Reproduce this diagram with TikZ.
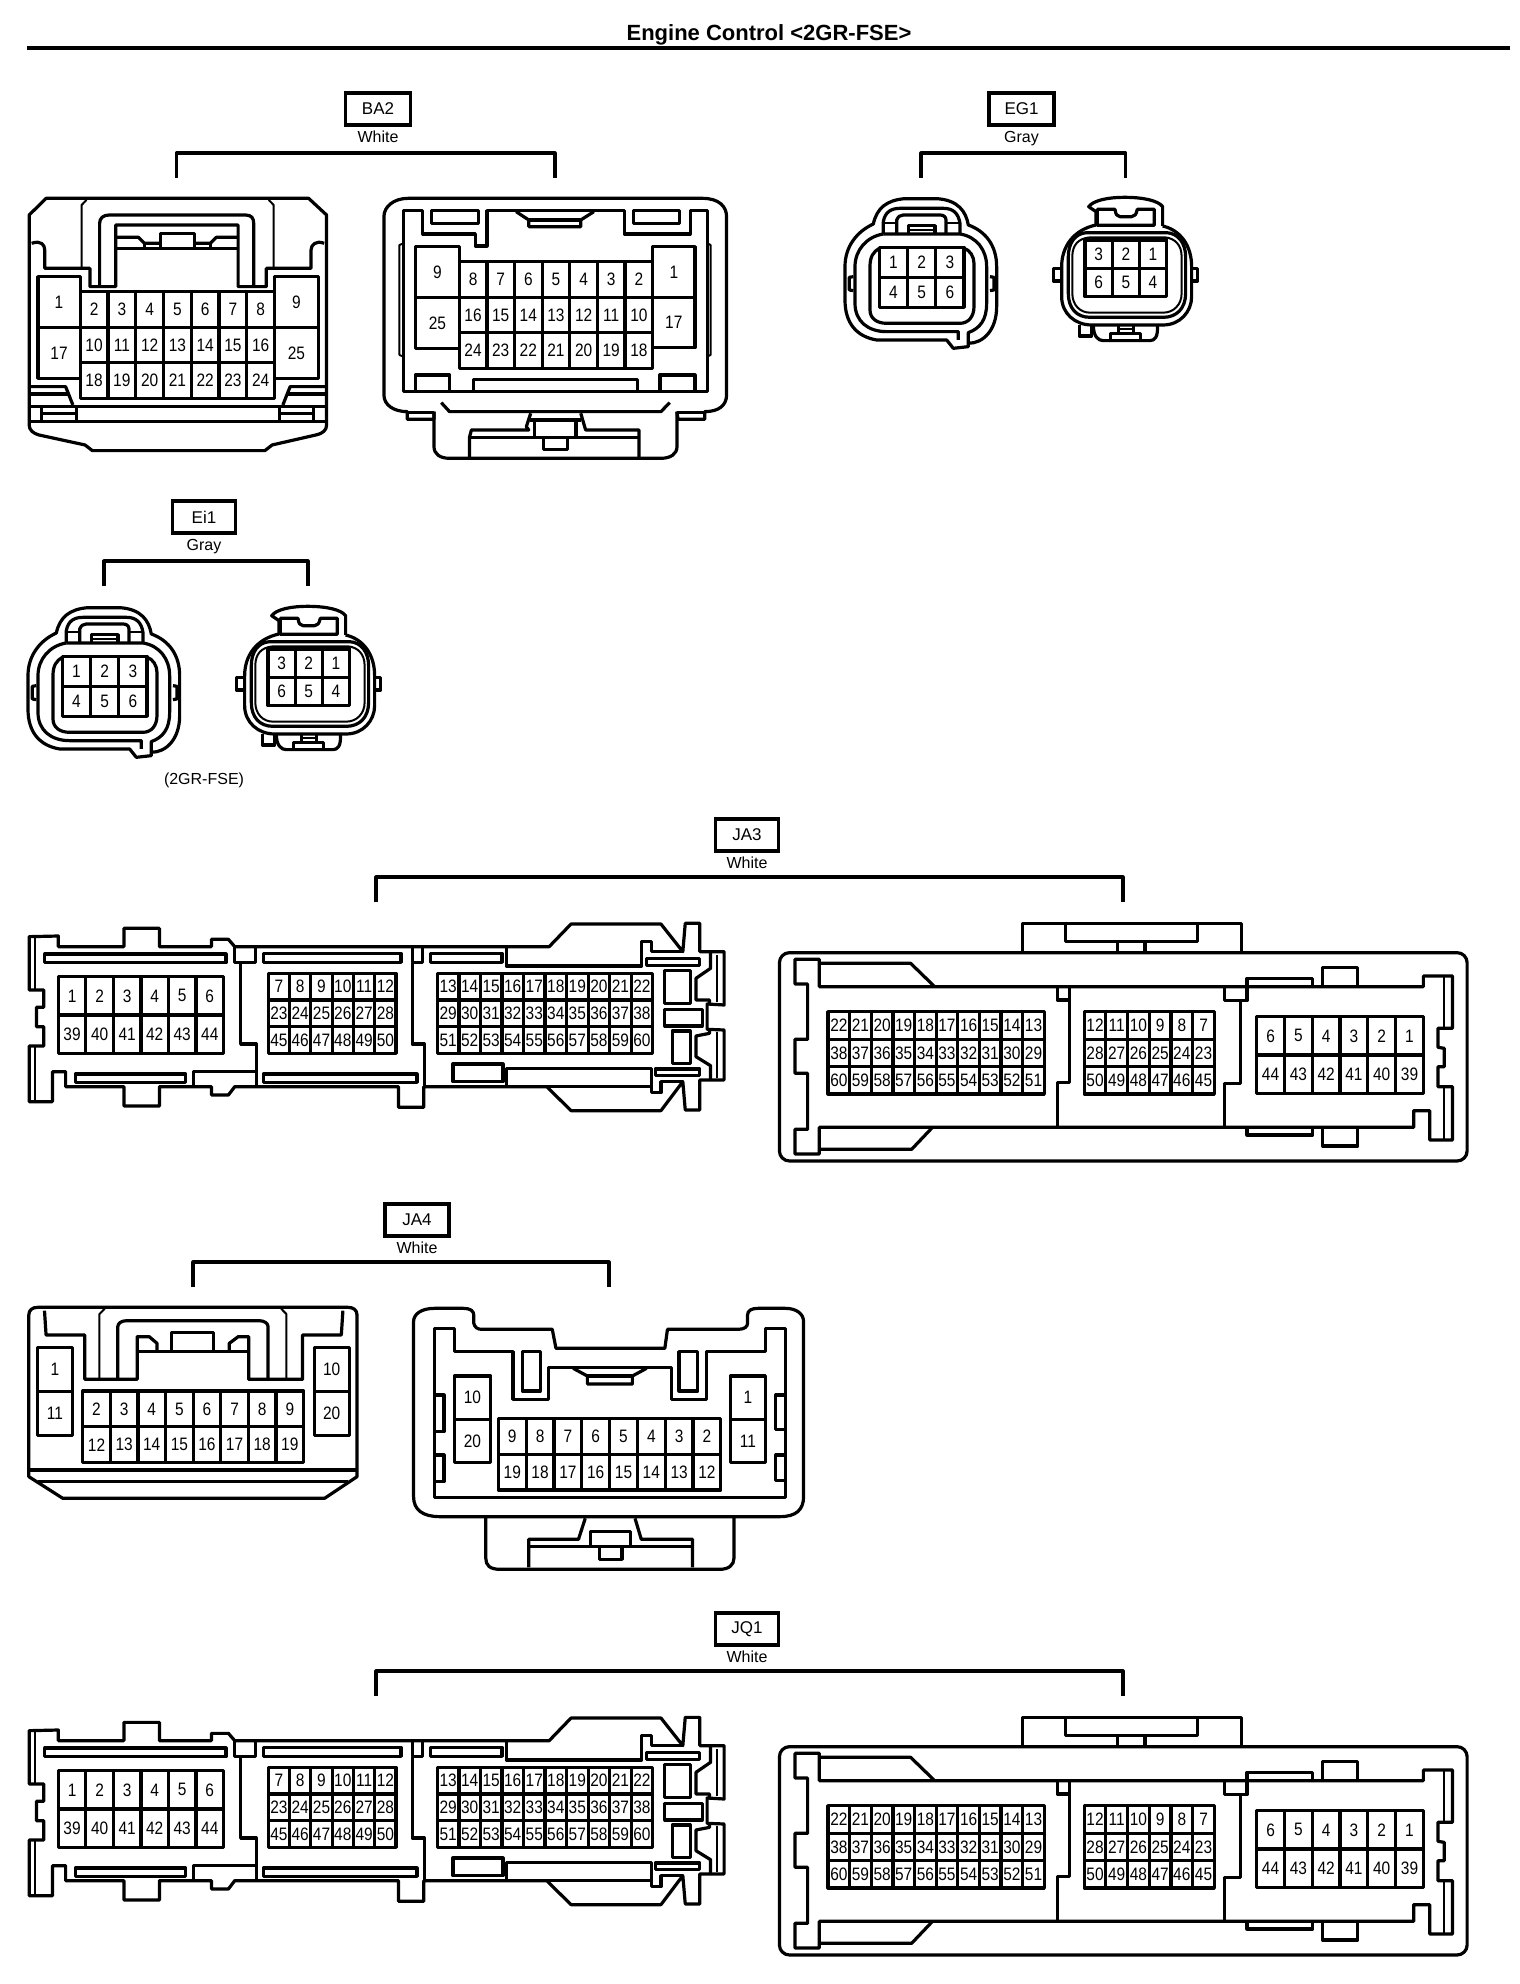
\documentclass[tikz,border=0pt]{standalone}
\usepackage{fontspec}
\setmainfont{Liberation Sans}
\newfontfamily\pinfont[FakeStretch=0.86]{Liberation Sans}
\tikzset{
  ol/.style={draw=black,line width=3.2pt,line join=round},
  tl/.style={draw=black,line width=2pt,line join=round},
  pin/.style={inner sep=0pt,outer sep=0pt,font=\pinfont\fontsize{18}{18}\selectfont,text=black},
  tagbox/.style={draw=black,line width=3.2pt,inner sep=0pt,outer sep=0pt,font=\fontsize{17}{17}\selectfont},
  tagtxt/.style={inner sep=0pt,outer sep=0pt,anchor=base,font=\fontsize{16}{16}\selectfont},
  zm/.style={xscale=0.486,yscale=0.3333},
  zmb/.style={xscale=0.5235,yscale=0.3333},
  zmc/.style={xscale=0.3333,yscale=0.3333}
}
% name, x1,y1,x2,y2, cols, rows, labels
\newcommand{\pingrid}[8]{%
  \draw[ol] (#2,#3) rectangle (#4,#5);
  \foreach \k in {1,...,#6}{\ifnum\k<#6\relax
    \draw[ol] ({#2+\k*(#4-#2)/#6},#3) -- ({#2+\k*(#4-#2)/#6},#5);\fi}
  \foreach \k in {1,...,#7}{\ifnum\k<#7\relax
    \draw[ol] (#2,{#3+\k*(#5-#3)/#7}) -- (#4,{#3+\k*(#5-#3)/#7});\fi}
  \foreach \t [count=\i from 0] in {#8}{%
    \pgfmathtruncatemacro\cc{mod(\i,#6)}%
    \pgfmathtruncatemacro\rr{div(\i,#6)}%
    \node[pin] (#1-\t) at ({#2+(\cc+.5)*(#4-#2)/#6},{#3+(\rr+.5)*(#5-#3)/#7}) {\t};
  }%
}
% id, text, box y, box cx, box w, bracket x1, x2, sub, bracket offset
\newcommand{\tagblock}[9]{%
  \node[tagbox,minimum width=#5pt,minimum height=32pt] (#1) at (#4,#3) {#2};
  \node[tagtxt] (#1-sub) at (#4,{#3+33}) {#8};
  \coordinate (#1-l) at (#6,{#3+#9+25});
  \coordinate (#1-r) at (#7,{#3+#9+25});
  \draw[ol,line cap=butt] (#1-l) -- (#6,{#3+#9}) -- (#7,{#3+#9}) -- (#1-r);
}
\newcommand{\sixleft}[1]{%
  \draw[ol] (255,356) -- (350,356) .. controls (415,360) and (438,395) .. (445,435)
     .. controls (500,455) and (530,500) .. (530,560) -- (530,680)
     .. controls (530,750) and (490,790) .. (445,790) -- (445,800) -- (400,805) -- (380,780) -- (170,780)
     .. controls (110,770) and (75,730) .. (75,660) -- (75,560)
     .. controls (75,500) and (110,455) .. (160,432) .. controls (170,385) and (200,360) .. (255,356) -- cycle;
  \draw[ol] (190,462) .. controls (140,470) and (105,510) .. (105,560) -- (105,670)
     .. controls (105,725) and (145,755) .. (200,755) -- (415,755) -- (415,780);
  \draw[ol] (190,462) -- (420,462) .. controls (470,470) and (500,510) .. (500,560) -- (500,670)
     .. controls (500,720) and (480,745) .. (445,758) -- (445,790);
  \draw[ol] (178,505) .. controls (160,515) and (150,530) .. (150,560) -- (150,690)
     .. controls (150,715) and (170,730) .. (200,730) -- (420,730) .. controls (445,730) and (462,710) .. (462,680)
     -- (462,550) .. controls (462,530) and (450,510) .. (432,505);
  \draw[ol] (190,462) -- (190,425) .. controls (195,395) and (215,385) .. (240,385) -- (370,385)
     .. controls (400,385) and (415,400) .. (420,430) -- (420,462);
  \draw[tl] (190,430) -- (230,430) (378,430) -- (420,430);
  \draw[ol] (230,462) -- (230,420) .. controls (235,410) and (240,405) .. (250,405) -- (360,405)
     .. controls (370,405) and (378,410) .. (378,420) -- (378,462);
  \draw[ol] (265,462) -- (265,437) -- (345,437) -- (345,462);
  \draw[tl] (265,450) -- (345,450);
  \draw[ol] (100,590) -- (88,592) -- (88,630) -- (100,632);
  \draw[ol] (510,590) -- (522,592) -- (522,630) -- (510,632);
  \pingrid{#1}{178}{502}{432}{682}{3}{2}{1,2,3,4,5,6}
}
\newcommand{\sixright}[1]{%
  \draw[ol] (828,435) -- (828,395) -- (806,380) .. controls (820,362) and (860,352) .. (915,352) .. controls (970,352) and (1015,362) .. (1028,380) -- (1028,438);
  \draw[ol] (828,435) .. controls (760,450) and (725,500) .. (725,560) -- (725,650)
     .. controls (725,700) and (765,735) .. (815,735) -- (1030,735) .. controls (1080,735) and (1115,695) .. (1115,650)
     -- (1115,560) .. controls (1115,495) and (1080,450) .. (1028,438);
  \draw[ol] (832,388) -- (885,388) .. controls (888,405) and (890,408) .. (900,410) -- (935,410) .. controls (945,408) and (948,405) .. (952,388)
     -- (1003,388) -- (1003,436) -- (832,436) -- cycle;
  \draw[ol] (800,458) -- (1040,458) .. controls (1075,460) and (1097,490) .. (1097,530) -- (1097,640)
     .. controls (1097,685) and (1070,712) .. (1030,712) -- (810,712) .. controls (770,712) and (745,685) .. (745,640)
     -- (745,530) .. controls (745,490) and (765,460) .. (800,458) -- cycle;
  \draw[tl] (810,472) -- (1035,472) .. controls (1065,475) and (1085,495) .. (1085,530) -- (1085,640)
     .. controls (1085,675) and (1060,698) .. (1030,698) -- (810,698) .. controls (780,698) and (757,675) .. (757,640)
     -- (757,530) .. controls (757,495) and (775,475) .. (810,472) -- cycle;
  \draw[ol] (722,565) -- (700,565) -- (700,603) -- (722,603);
  \draw[ol] (1118,565) -- (1133,565) -- (1133,603) -- (1118,603);
  \draw[ol] (778,735) -- (778,768) -- (815,768) -- (815,735);
  \draw[ol] (820,735) .. controls (820,770) and (835,782) .. (850,782) -- (990,782) .. controls (1005,782) and (1015,770) .. (1012,735);
  \draw[ol] (872,780) -- (872,760) -- (962,760) -- (962,780);
  \draw[ol] (895,735) -- (895,760) (940,735) -- (940,760);
  \draw[tl] (895,746) -- (940,746);
  \pingrid{#1}{795}{480}{1040}{650}{3}{2}{3,2,1,6,5,4}
}
\newcommand{\bigleft}[1]{%
  \draw[ol] (60,110) -- (120,108) -- (120,140) -- (255,140) -- (255,85) -- (328,85) -- (328,140) -- (435,140) -- (435,118) -- (470,118) -- (483,140)
    -- (1130,140) -- (1175,72) -- (1360,72) -- (1405,155) -- (1410,70) -- (1440,70) -- (1440,155) -- (1490,155) -- (1490,315) -- (1455,312) -- (1455,388) -- (1490,390)
    -- (1490,540) -- (1440,540) -- (1440,630) -- (1410,630) -- (1405,545) -- (1360,632) -- (1175,632) -- (1125,560)
    -- (872,560) -- (872,622) -- (820,622) -- (820,560) -- (483,560) -- (470,585) -- (435,585) -- (435,560) -- (328,560) -- (328,618) -- (255,618) -- (255,560) -- (135,560) -- (135,515) -- (108,515) -- (108,605) -- (60,605)
    -- (60,438) -- (90,438) -- (90,380) -- (75,380) -- (75,322) -- (90,322) -- (90,270) -- (60,270) -- cycle;
  \draw[tl] (72,110) -- (72,270) (72,440) -- (72,603) (120,120) -- (120,140);
  \draw[ol] (92,162) rectangle (465,188);
  \draw[ol] (155,522) rectangle (382,547);
  \draw[ol] (542,160) rectangle (825,187);
  \draw[ol] (542,522) rectangle (858,547);
  \draw[ol] (886,160) rectangle (1033,187);
  \draw[ol] (483,140) -- (483,188) -- (525,188) -- (525,140);
  \draw[ol] (495,188) -- (495,432) -- (527,432) -- (527,560);
  \draw[ol] (848,140) -- (848,188) -- (870,188) -- (870,140);
  \draw[ol] (848,188) -- (848,432) -- (873,432) -- (873,560);
  \draw[ol] (398,560) -- (398,515) -- (527,515);
  \draw[ol] (1042,145) -- (1042,198) -- (1320,198) -- (1320,125) -- (1340,125) -- (1340,155) -- (1405,155);
  \draw[ol] (1042,560) -- (1042,505) -- (1340,505) -- (1340,578) -- (1360,578) -- (1360,545) -- (1405,545);
  \draw[ol] (1042,560) -- (1340,560);
  \draw[ol] (932,492) rectangle (1035,545);
  \draw[ol] (1330,175) rectangle (1440,197);
  \draw[ol] (1348,507) rectangle (1440,527);
  \draw[ol] (1368,212) rectangle (1420,310);
  \draw[ol] (1368,328) rectangle (1445,378);
  \draw[ol] (1383,393) rectangle (1420,490);
  \draw[ol] (1462,157) -- (1462,205) -- (1432,235) -- (1432,300) -- (1460,300) -- (1460,312);
  \draw[ol] (1460,388) -- (1460,400) -- (1432,408) -- (1432,470) -- (1462,497) -- (1462,538);
  \draw[tl] (1475,165) -- (1475,305) (1475,395) -- (1475,535);
  \pingrid{#1a}{120}{230}{460}{460}{6}{2}{1,2,3,4,5,6,39,40,41,42,43,44}
  \pingrid{#1b}{552}{220}{815}{460}{6}{3}{7,8,9,10,11,12,23,24,25,26,27,28,45,46,47,48,49,50}
  \pingrid{#1c}{900}{220}{1343}{460}{10}{3}{13,14,15,16,17,18,19,20,21,22,29,30,31,32,33,34,35,36,37,38,51,52,53,54,55,56,57,58,59,60}
}
\newcommand{\bigright}[1]{%
  \draw[ol,rounded corners=10pt] (40,158) rectangle (1455,783);
  \draw[ol] (540,158) -- (540,70) -- (990,70) -- (990,158);
  \draw[ol] (628,72) -- (628,125) -- (900,125) -- (900,72);
  \draw[ol] (735,125) -- (735,158) (792,125) -- (792,158);
  \draw[ol] (122,190) -- (310,190) -- (358,258);
  \draw[ol] (122,260) -- (1365,260) -- (1365,228) -- (1425,228) -- (1425,385) -- (1395,385) -- (1395,442) -- (1408,445) -- (1408,500) -- (1395,500) -- (1395,560) -- (1425,560) -- (1425,720) -- (1378,720) -- (1378,632) -- (1345,632) -- (1345,682) -- (122,682)
     -- (122,762) -- (72,762) -- (72,688) -- (98,688) -- (98,520) -- (72,520) -- (72,418) -- (98,418) -- (98,252) -- (72,252) -- (72,178) -- (122,178) -- cycle;
  \draw[ol] (122,748) -- (312,748) -- (355,682);
  \draw[tl] (1408,230) -- (1408,385) (1408,560) -- (1408,720);
  \draw[ol] (612,262) -- (612,300) -- (636,300) -- (636,262);
  \draw[ol] (636,300) -- (636,548) -- (612,548) -- (612,680);
  \draw[ol] (955,262) -- (955,302) -- (1002,302) -- (1002,235) -- (1137,235) -- (1137,258);
  \draw[ol] (988,302) -- (988,550) -- (955,550) -- (955,680);
  \draw[ol] (1158,258) -- (1158,202) -- (1230,202) -- (1230,258);
  \draw[ol] (1158,682) -- (1158,738) -- (1230,738) -- (1230,682);
  \draw[ol] (1002,682) -- (1002,705) -- (1137,705) -- (1137,682);
  \pingrid{#1a}{140}{335}{585}{582}{10}{3}{22,21,20,19,18,17,16,15,14,13,38,37,36,35,34,33,32,31,30,29,60,59,58,57,56,55,54,53,52,51}
  \pingrid{#1b}{667}{335}{935}{582}{6}{3}{12,11,10,9,8,7,28,27,26,25,24,23,50,49,48,47,46,45}
  \pingrid{#1c}{1022}{350}{1365}{580}{6}{2}{6,5,4,3,2,1,44,43,42,41,40,39}
}
\begin{document}
\begin{tikzpicture}[x=1pt,y=-1pt]
\useasboundingbox (0,0) rectangle (1520,1984);
\fill[white] (0,0) rectangle (1520,1984);
% title
\node[inner sep=0pt,font=\bfseries\fontsize{22}{22}\selectfont] (title) at (769,35) {Engine Control <2GR-FSE>};
\coordinate (ruleL) at (27,48); \coordinate (ruleR) at (1510,48);
\draw[black,line width=3.6pt] (ruleL) -- (ruleR);

\tagblock{BA2}{BA2}{109}{378}{65}{176.5}{555}{White}{44}
\tagblock{EG1}{EG1}{109}{1021.5}{65}{921}{1125.5}{Gray}{44}
\tagblock{Ei1}{Ei1}{517}{204}{63}{104}{308}{Gray}{44}
\tagblock{JA3}{JA3}{835}{747}{63}{376}{1123}{White}{42}
\tagblock{JA4}{JA4}{1220}{417}{64}{193}{609}{White}{42}
\tagblock{JQ1}{JQ1}{1629}{747}{63}{376}{1123}{White}{42}
\node[tagtxt] (variant) at (204,784) {(2GR-FSE)};

% BA2 left
\begin{scope}[shift={(0,80)},zm]
  \draw[ol] (60,405) -- (95,355) -- (635,355) -- (672,405) -- (672,1035) .. controls (672,1050) and (665,1060) .. (650,1065) -- (560,1095) -- (545,1112) -- (190,1112) -- (175,1095) -- (80,1065) .. controls (68,1060) and (60,1050) .. (60,1035) -- cycle;
  \draw[ol] (65,490) .. controls (85,480) and (92,495) .. (92,510) -- (92,565) -- (185,565) -- (185,620) -- (238,620) -- (238,435) -- (490,435) -- (490,620) -- (548,620) -- (548,565) -- (640,565) -- (640,510) .. controls (640,495) and (650,480) .. (667,490);
  \draw[tl] (168,565) -- (168,375) -- (178,360) (563,565) -- (563,375) -- (553,360);
  \draw[ol] (205,620) -- (205,430) .. controls (205,415) and (212,405) .. (225,405) -- (505,405) .. controls (518,405) and (522,415) .. (522,430) -- (522,620);
  \draw[ol] (238,472) -- (285,472) -- (297,490) -- (330,490);
  \draw[ol] (238,505) -- (490,505);
  \draw[ol] (330,505) -- (330,460) -- (400,460) -- (400,505);
  \draw[ol] (400,490) -- (433,490) -- (445,472) -- (490,472);
  \draw[ol] (297,490) -- (297,505) (433,490) -- (433,505);
  \draw[ol] (60,920) -- (135,920) -- (150,975);
  \draw[ol] (60,942) -- (140,942);
  \draw[ol] (672,920) -- (597,920) -- (582,975);
  \draw[ol] (672,942) -- (592,942);
  \draw[ol] (60,980) -- (672,980);
  \draw[ol] (60,1025) -- (672,1025);
  \draw[ol] (158,980) -- (158,1025) (575,980) -- (575,1025);
  \draw[ol] (85,985) -- (85,1025) (645,985) -- (645,1025);
  \draw[ol] (85,1000) -- (158,1000) (575,1000) -- (645,1000);
  \pingrid{bl1}{78}{590}{165}{895}{1}{2}{1,17}
  \pingrid{bl9}{565}{590}{655}{895}{1}{2}{9,25}
  \pingrid{bl}{165}{635}{565}{955}{7}{3}{2,3,4,5,6,7,8,10,11,12,13,14,15,16,18,19,20,21,22,23,24}
\end{scope}
% BA2 right
\begin{scope}[shift={(0,80)},zm]
  \draw[ol] (840,355) -- (1445,355) .. controls (1480,355) and (1495,380) .. (1495,410) -- (1495,945) .. controls (1495,975) and (1480,995) .. (1450,995) -- (1450,1018) -- (1395,1018) -- (1393,995);
  \draw[ol] (840,355) .. controls (810,355) and (790,380) .. (790,410) -- (790,945) .. controls (790,975) and (810,995) .. (838,995) -- (838,1018) -- (893,1018) -- (893,995);
  \draw[ol] (893,995) -- (893,1100) .. controls (893,1122) and (905,1135) .. (925,1135) -- (1360,1135) .. controls (1380,1135) and (1393,1122) .. (1393,1100) -- (1393,995);
  \draw[ol] (838,997) -- (893,997) (1393,997) -- (1450,997);
  \draw[ol] (908,968) -- (925,995) -- (1360,995) -- (1378,968);
  \draw[ol] (1092,1000) -- (1083,1040) -- (1088,1050) -- (970,1050) -- (966,1072) -- (966,1135);
  \draw[ol] (1195,1000) -- (1205,1050) -- (1315,1050) -- (1315,1135);
  \draw[ol] (966,1072) -- (1315,1072);
  \draw[ol] (1090,1020) -- (1195,1020);
  \draw[ol] (1100,1020) -- (1100,1072) (1185,1020) -- (1185,1072);
  \draw[ol] (1118,1072) -- (1118,1108) -- (1168,1108) -- (1168,1072);
  \draw[ol] (830,935) -- (830,392) -- (870,392) -- (870,462) -- (978,462) -- (978,498) -- (1002,498) -- (1002,392) -- (1285,392) -- (1285,462) -- (1420,462) -- (1420,392) -- (1455,392) -- (1455,935) -- cycle;
  \draw[ol] (888,392) -- (888,430) -- (985,430) -- (985,392) -- cycle;
  \draw[ol] (1303,392) -- (1303,430) -- (1398,430) -- (1398,392) -- cycle;
  \draw[ol] (1062,395) -- (1088,420) -- (1088,440) -- (1195,440) -- (1195,420) -- (1222,395);
  \draw[ol] (1088,420) -- (1195,420);
  \draw[tl] (830,490) -- (822,495) -- (822,825) -- (830,830);
  \draw[tl] (1455,490) -- (1462,495) -- (1462,825) -- (1455,830);
  \draw[ol] (855,935) -- (855,885) -- (925,885) -- (925,935);
  \draw[ol] (1358,935) -- (1358,885) -- (1430,885) -- (1430,935);
  \draw[ol] (975,935) -- (975,898) -- (1312,898) -- (1312,935);
  \pingrid{br9}{855}{500}{945}{805}{1}{2}{9,25}
  \pingrid{br1}{1343}{500}{1430}{803}{1}{2}{1,17}
  \pingrid{br}{945}{545}{1343}{865}{7}{3}{8,7,6,5,4,3,2,16,15,14,13,12,11,10,24,23,22,21,20,19,18}
\end{scope}
% EG1, Ei1
\begin{scope}[shift={(820,80)},zmc]
  \sixleft{egl}
  \sixright{egr}
\end{scope}
\begin{scope}[shift={(3,489)},zmc]
  \sixleft{eil}
  \sixright{eir}
\end{scope}
% JA3
\begin{scope}[shift={(0,900)},zm]
  \bigleft{jal}
\end{scope}
\begin{scope}[shift={(760,900)},zm]
  \bigright{jar}
\end{scope}
% JQ1
\begin{scope}[shift={(0,1694)},zm]
  \bigleft{jql}
\end{scope}
\begin{scope}[shift={(760,1694)},zm]
  \bigright{jqr}
\end{scope}
% JA4 left
\begin{scope}[shift={(0,1290)},zmb]
  \draw[ol] (55,75) .. controls (55,60) and (62,52) .. (72,52) -- (665,52) .. controls (675,52) and (682,60) .. (682,75) -- (682,560) -- (620,625) -- (120,625) -- (55,560) -- cycle;
  \draw[ol] (55,540) -- (682,540);
  \draw[ol] (72,575) -- (665,575);
  \draw[ol] (85,62) -- (88,135) -- (162,135) -- (162,268) -- (262,268) -- (262,140) -- (285,140) -- (300,160) -- (300,185);
  \draw[tl] (190,268) -- (190,72) -- (200,56) (547,268) -- (547,72) -- (537,56);
  \draw[ol] (225,268) -- (225,110) .. controls (225,100) and (232,92) .. (242,92) -- (495,92) .. controls (505,92) and (512,100) .. (512,110) -- (512,268);
  \draw[ol] (262,185) -- (475,185);
  \draw[ol] (327,185) -- (327,128) -- (408,128) -- (408,185);
  \draw[ol] (438,185) -- (438,160) -- (455,140) -- (475,140) -- (475,268) -- (578,268) -- (578,135) -- (652,135) -- (655,62);
  \pingrid{jl1}{72}{172}{138}{437}{1}{2}{1,11}
  \pingrid{jl10}{600}{172}{667}{437}{1}{2}{10,20}
  \pingrid{jl}{158}{303}{580}{518}{8}{2}{2,3,4,5,6,7,8,9,12,13,14,15,16,17,18,19}
\end{scope}
% JA4 right
\begin{scope}[shift={(0,1290)},zmb]
  \draw[ol] (830,55) -- (885,55) .. controls (898,55) and (905,62) .. (905,75) -- (905,100) .. controls (907,112) and (912,118) .. (920,118) -- (1055,118) -- (1062,175) -- (1270,175) -- (1275,118) -- (1410,118) .. controls (1422,118) and (1428,110) .. (1428,100) -- (1428,75) .. controls (1428,62) and (1435,55) .. (1448,55) -- (1500,55)
    .. controls (1522,55) and (1535,72) .. (1535,95) -- (1535,620) .. controls (1535,660) and (1520,680) .. (1490,680) -- (840,680) .. controls (808,680) and (790,660) .. (790,620) -- (790,95) .. controls (790,72) and (805,55) .. (830,55) -- cycle;
  \draw[ol] (928,680) -- (928,805) .. controls (928,825) and (935,838) .. (955,838) -- (1375,838) .. controls (1392,838) and (1402,825) .. (1402,805) -- (1402,680);
  \draw[ol] (1118,685) -- (1105,748) -- (1010,748) -- (1010,832);
  \draw[ol] (1213,685) -- (1225,748) -- (1323,748) -- (1323,832);
  \draw[ol] (1010,770) -- (1323,770);
  \draw[ol] (1128,770) -- (1128,725) -- (1205,725) -- (1205,770);
  \draw[ol] (1145,770) -- (1145,808) -- (1188,808) -- (1188,770);
  \draw[ol] (830,622) -- (830,115) -- (868,115) -- (868,185) -- (980,185) -- (980,328) -- (1048,328) -- (1048,232) -- (1282,232) -- (1282,328) -- (1350,328) -- (1350,185) -- (1462,185) -- (1462,115) -- (1500,115) -- (1500,622) -- cycle;
  \draw[ol] (998,185) rectangle (1032,303);
  \draw[ol] (1297,185) rectangle (1333,303);
  \draw[ol] (1095,235) -- (1122,258) -- (1122,282) -- (1208,282) -- (1208,258) -- (1235,235);
  \draw[ol] (1122,258) -- (1208,258);
  \draw[ol] (832,315) -- (848,315) -- (848,425) -- (832,425);
  \draw[ol] (832,495) -- (848,495) -- (848,575) -- (832,575);
  \draw[ol] (1498,315) -- (1482,315) -- (1482,418) -- (1498,418);
  \draw[ol] (1498,495) -- (1482,495) -- (1482,572) -- (1498,572);
  \pingrid{jr10}{868}{258}{937}{518}{1}{2}{10,20}
  \pingrid{jr1}{1395}{258}{1462}{518}{1}{2}{1,11}
  \pingrid{jr}{952}{385}{1377}{600}{8}{2}{9,8,7,6,5,4,3,2,19,18,17,16,15,14,13,12}
\end{scope}
\end{tikzpicture}
\end{document}
